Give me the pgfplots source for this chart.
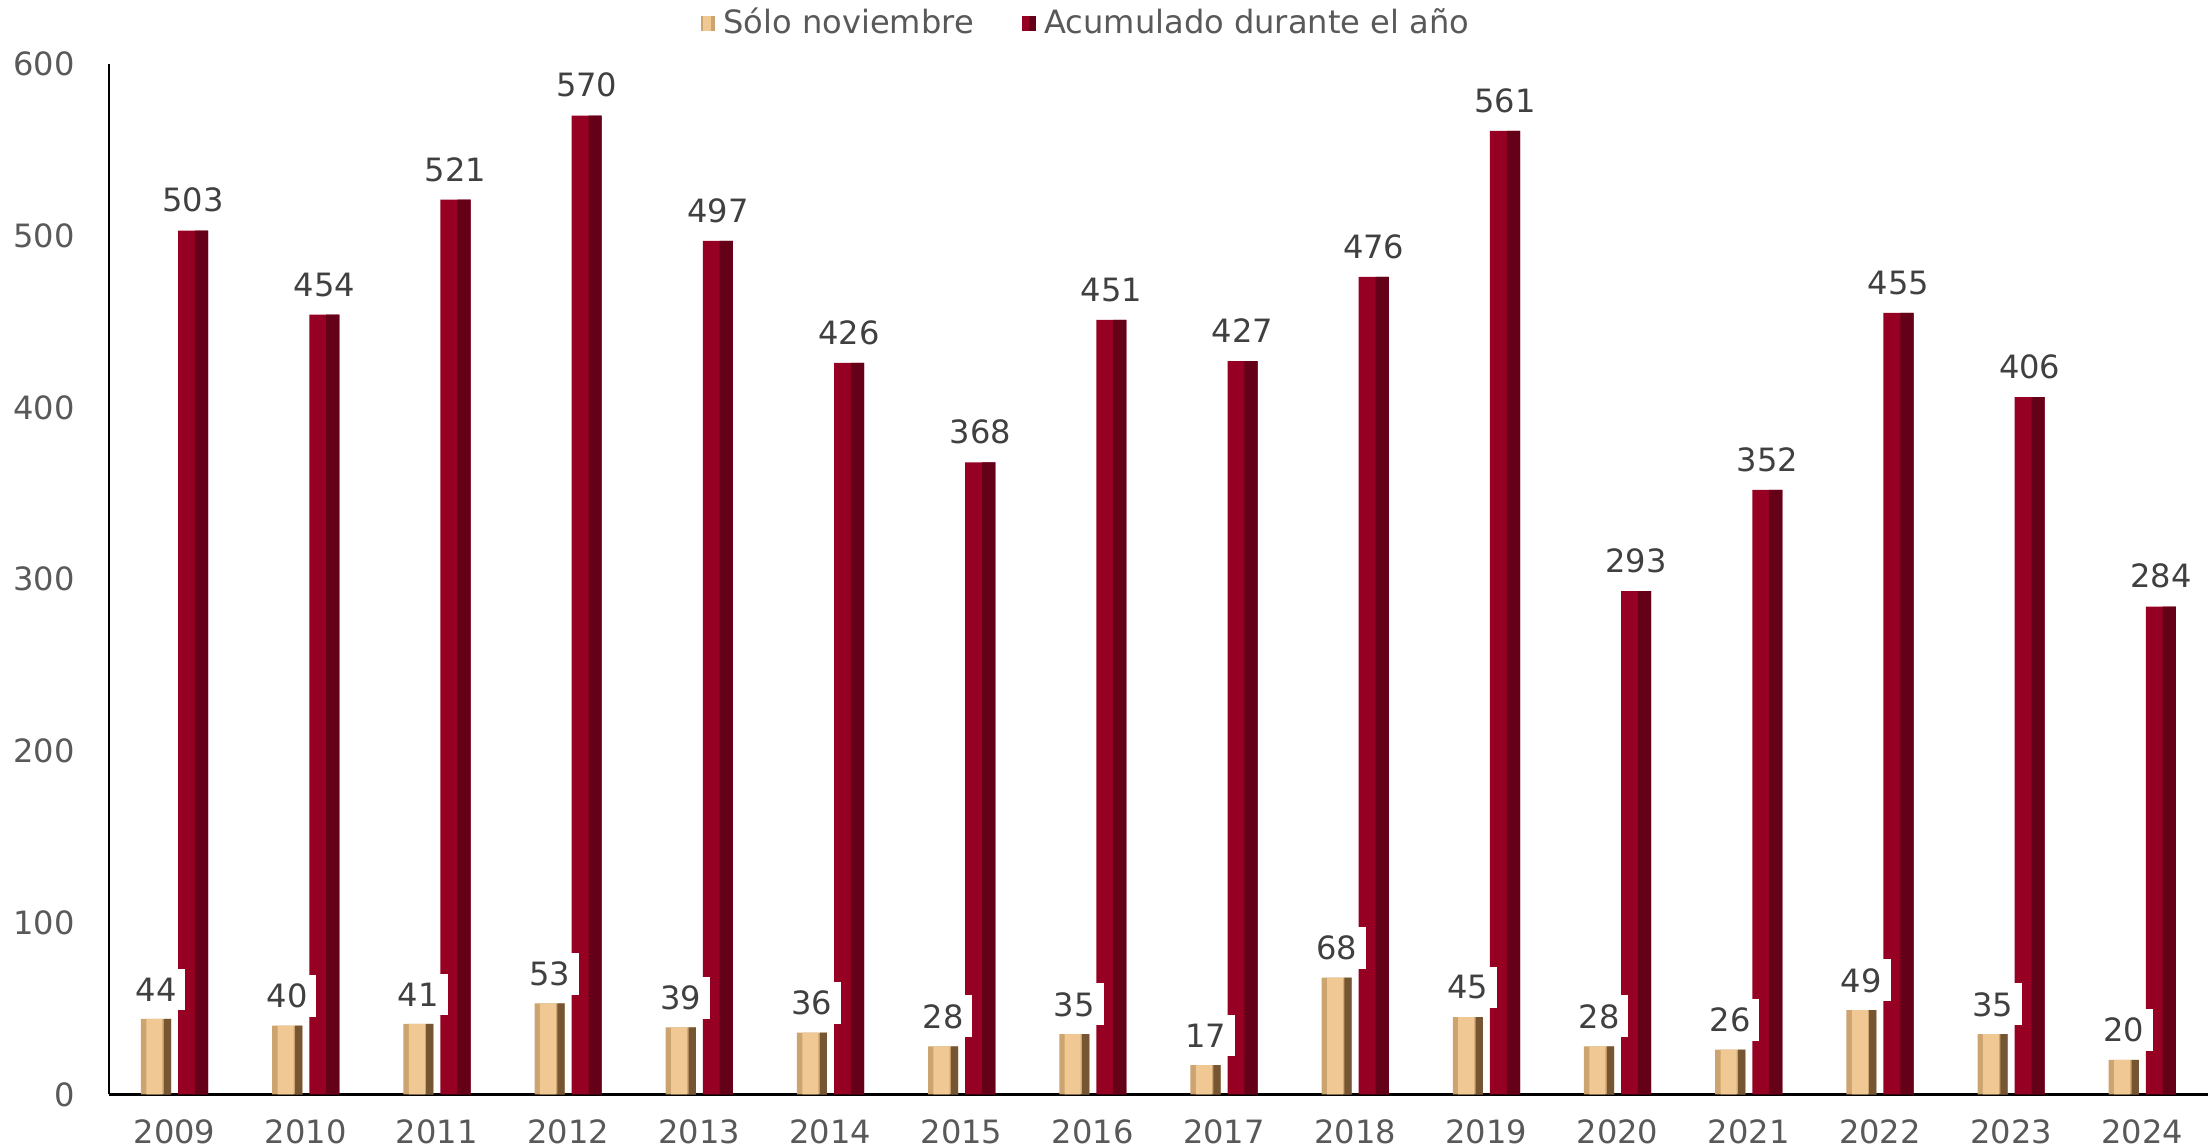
\documentclass[border=0pt]{standalone}
\usepackage{pgfplots}
\usepackage{pgfplotstable}
\pgfplotsset{compat=1.18}
\usepackage{fontspec}
\setmainfont{DejaVu Sans}

\definecolor{txt}{RGB}{89,89,89}
\definecolor{lbl}{RGB}{64,64,64}
\definecolor{goldL}{RGB}{205,163,112}
\definecolor{goldM}{RGB}{240,200,148}
\definecolor{goldR}{RGB}{118,86,50}
\definecolor{redL}{RGB}{150,0,35}
\definecolor{redR}{RGB}{100,0,24}

\pgfplotstableread{
x nov acum
0 44 503
1 40 454
2 41 521
3 53 570
4 39 497
5 36 426
6 28 368
7 35 451
8 17 427
9 68 476
10 45 561
11 28 293
12 26 352
13 49 455
14 35 406
15 20 284
}\datos

\begin{document}
\begin{tikzpicture}
\begin{axis}[
    scale only axis,
    width=523pt, height=256.75pt,
    font=\fontsize{8}{10}\selectfont,
    /pgf/number format/assume math mode=true,
    xmin=-0.5, xmax=15.5,
    ymin=0, ymax=600,
    ytick={0,100,...,600},
    xtick={0,...,15},
    xticklabels={2009,2010,2011,2012,2013,2014,2015,2016,2017,2018,2019,2020,2021,2022,2023,2024},
    axis x line*=bottom, axis y line*=left,
    axis line style={black, line width=0.6pt},
    major tick length=0pt,
    tick label style={text=txt},
    yticklabel style={xshift=-5pt},
    xticklabel style={inner ysep=0.5pt, yshift=-5.7pt},
    bar width=7.5pt,
    legend columns=2,
    legend style={draw=none, fill=none, inner sep=0pt, at={(0.467,1.015)}, anchor=south,
        text=txt, /tikz/every even column/.append style={column sep=10pt}},
    legend cell align=left,
]
% Solo noviembre
\addplot[ybar, bar shift=-4.6pt, draw=none, fill=goldL,
    legend image code/.code={\fill[goldL] (0pt,-1.9pt) rectangle (3.6pt,1.9pt); \fill[goldM] (0.6pt,-1.9pt) rectangle (2.6pt,1.9pt);}]
    table[x=x, y=nov] {\datos};
\addlegendentry{Sólo noviembre}
% Acumulado
\addplot[ybar, bar shift=4.65pt, draw=none, fill=redL,
    legend image code/.code={\fill[redL] (0pt,-1.9pt) rectangle (3.6pt,1.9pt); \fill[redR] (1.8pt,-1.9pt) rectangle (3.6pt,1.9pt);}]
    table[x=x, y=acum] {\datos};
\addlegendentry{Acumulado durante el año}
% bevel effect
\addplot[ybar, bar width=4pt, bar shift=-5.0pt, draw=none, fill=goldM, forget plot]
    table[x=x, y=nov] {\datos};
\addplot[ybar, bar width=1.8pt, bar shift=-1.75pt, draw=none, fill=goldR, forget plot]
    table[x=x, y=nov] {\datos};
\addplot[ybar, bar width=3.3pt, bar shift=6.75pt, draw=none, fill=redR, forget plot]
    table[x=x, y=acum] {\datos};
% data labels
\addplot[ybar, bar shift=4.65pt, draw=none, fill=none, forget plot,
    nodes near coords, nodes near coords style={text=lbl, yshift=1pt, xshift=4.65pt}]
    table[x=x, y=acum] {\datos};
\addplot[ybar, bar shift=-4.6pt, draw=none, fill=none, forget plot,
    nodes near coords, nodes near coords style={text=lbl, fill=white, inner sep=2.2pt, yshift=2pt, xshift=-4.6pt}]
    table[x=x, y=nov] {\datos};
\end{axis}
\end{tikzpicture}
\end{document}
